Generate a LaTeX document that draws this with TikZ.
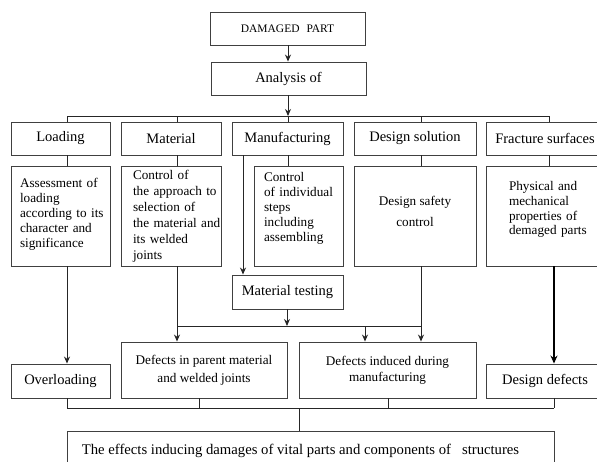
\documentclass[tikz,border=0pt]{standalone}
\usepackage{fontspec}
\setmainfont{Liberation Serif}
\usetikzlibrary{arrows.meta}
% left-aligned block of lines, raised by #1 without changing the box size
\newcommand{\blockL}[2]{\raisebox{#1}[\height][\depth]{\begin{tabular}{@{}l@{}}#2\end{tabular}}}
\newcommand{\blockC}[2]{\raisebox{#1}[\height][\depth]{\begin{tabular}{@{}c@{}}#2\end{tabular}}}
\begin{document}
\begin{tikzpicture}[x=1pt,y=-1pt,
  box/.style={draw=black!75, line width=0.9pt, inner sep=0pt, align=center,
              font=\fontsize{14.5}{16}\selectfont},
  descbox/.style={box, minimum height=100pt, font=\fontsize{13.2}{15}\selectfont},
  conn/.style={line width=1pt, black!85},
  arr/.style={conn, -{Stealth[length=7pt,width=6pt]}}]
\useasboundingbox (0,0) rectangle (597,461);

% head of the chart
\node[box, minimum width=155pt, minimum height=33pt, font=\fontsize{11.5}{13}\selectfont]
  (dmg) at (287.5,28.5) {DAMAGED\hspace{0.6em}PART};
\node[box, minimum width=155pt, minimum height=33pt] (ana) at (288.5,78.5) {Analysis of};

% first row: fields of analysis
\node[box, minimum width=99pt,  minimum height=33pt] (load) at (60.5,138.5) {Loading};
\node[box, minimum width=100pt, minimum height=33pt] (mat)  at (171,138.5) {Material};
\node[box, minimum width=111pt, minimum height=33pt] (manu) at (287.5,138.5) {Manufacturing};
\node[box, minimum width=122pt, minimum height=33pt] (des)  at (415,138.5) {Design solution};
\node[box, minimum width=118pt, minimum height=33pt] (frac) at (545,138.5) {Fracture surfaces};

% second row: what is examined
\node[descbox, minimum width=99pt, text width=81pt, align=left] (loadd) at (60.5,216)
  {\blockL{2pt}{Assessment of\\ loading\\ according to its\\ character and\\ significance}};
\node[descbox, minimum width=100pt, text width=76pt, align=left,
      font=\fontsize{13.2}{16}\selectfont] (matd) at (171,216)
  {\blockL{0pt}{Control of\\ the approach to\\ selection of\\ the material and\\ its welded\\ joints}};
\node[descbox, minimum width=89pt, text width=69pt, align=left] (manud) at (298.5,216)
  {\blockL{8pt}{Control\\ of individual\\ steps\\ including\\ assembling}};
\node[descbox, minimum width=122pt, font=\fontsize{13.2}{21}\selectfont] (desd) at (415,216)
  {\blockC{4pt}{Design safety\\ control}};
\node[descbox, minimum width=118pt, text width=72pt, align=left,
      font=\fontsize{13.2}{14.7}\selectfont] (fracd) at (545,216)
  {\blockL{6pt}{Physical and\\ mechanical\\ properties of\\ demaged parts}};

\node[box, minimum width=111pt, minimum height=34pt] (mtest) at (287.5,292) {Material testing};

% third row: kinds of defects
\node[box, minimum width=99pt, minimum height=34pt] (over) at (60.5,381) {Overloading};
\node[box, minimum width=166pt, minimum height=56pt, font=\fontsize{13.2}{18}\selectfont]
  (defp) at (204,370) {Defects in parent material\\ and welded joints};
\node[box, minimum width=177pt, minimum height=56pt, font=\fontsize{13.2}{16}\selectfont]
  (defi) at (387.5,370) {Defects induced during\\ manufacturing};
\node[box, minimum width=118pt, minimum height=34pt] (ddef) at (545,381) {Design defects};

% result
\node[box, minimum width=487pt, minimum height=40pt, font=\fontsize{14.7}{16}\selectfont]
  (eff) at (310.5,451) {\hspace*{-20pt}The effects inducing damages of vital parts and components of\hspace{0.5em} structures};

% connector columns and bus points
\coordinate (cL) at (67,116);
\coordinate (cM) at (177,116);
\coordinate (cF) at (288,116);
\coordinate (cD) at (421,116);
\coordinate (cR) at (549,116);
\coordinate (cT) at (243,0);
\coordinate (cR2) at (554,0);
\coordinate (m1) at (177,326);
\coordinate (m2) at (421,326);
\coordinate (mT) at (287,326);
\coordinate (mI) at (365,326);
\coordinate (n1) at (67,408);
\coordinate (n2) at (554,408);
\coordinate (nP) at (199,408);
\coordinate (nI) at (388,408);
\coordinate (nB) at (299,408);

% top part
\draw[arr] (dmg.south -| cF) -- (ana.north -| cF);
\draw[arr] (ana.south -| cF) -- (cF);
\draw[conn] (cL) -- (cR);
\foreach \c/\a/\b in {cL/load/loadd, cM/mat/matd, cF/manu/manud, cD/des/desd, cR/frac/fracd} {
  \draw[conn] (\c) -- (\a.north -| \c);
  \draw[conn] (\a.south -| \c) -- (\b.north -| \c);
}
\draw[arr] (manu.south -| cT) -- (mtest.north -| cT);

% middle part
\draw[arr] (loadd.south -| cL) -- (over.north -| cL);
\draw[arr] (matd.south -| cM) -- (defp.north -| cM);
\draw[arr] (desd.south -| cD) -- (defi.north -| cD);
\draw[conn] (m1) -- (m2);
\draw[arr] (mtest.south -| mT) -- (mT);
\draw[arr] (mI) -- (defi.north -| mI);
\draw[conn, black, line width=2pt, -{Stealth[length=8pt,width=7pt]}] (fracd.south -| cR2) -- (ddef.north -| cR2);

% bottom part
\draw[conn] (over.south -| n1) -- (n1);
\draw[conn] (defp.south -| nP) -- (nP);
\draw[conn] (defi.south -| nI) -- (nI);
\draw[conn] (ddef.south -| n2) -- (n2);
\draw[conn] (n1) -- (n2);
\draw[conn] (nB) -- (eff.north -| nB);
\end{tikzpicture}
\end{document}
